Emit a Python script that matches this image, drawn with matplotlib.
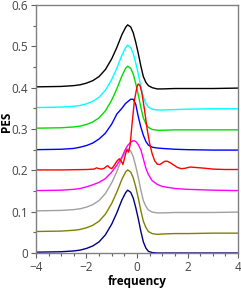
import matplotlib
matplotlib.use("Agg")
import matplotlib.pyplot as plt
from matplotlib.ticker import MultipleLocator

plt.rcParams['font.family'] = ['Open Sans', 'DejaVu Sans']

# shared frequency grid for the smooth spectra
x_smooth = [-4, -3, -2.5, -2.25, -2, -1.75, -1.5, -1.25, -1, -0.8, -0.6, -0.45, -0.37,
            -0.25, -0.15, -0.05, 0.05, 0.15, 0.25, 0.35, 0.45, 0.6, 0.8, 1, 1.5, 2, 3, 4]

pes_navy = [0.002, 0.003, 0.005, 0.007, 0.011, 0.017, 0.027, 0.044, 0.07, 0.097, 0.128, 0.146, 0.152,
            0.147, 0.133, 0.11, 0.083, 0.053, 0.027, 0.012, 0.004, 0.001, 0.0, 0.0, 0.0, 0.0, 0.0, 0.0]
pes_olive = [0.052, 0.053, 0.055, 0.057, 0.061, 0.067, 0.077, 0.094, 0.12, 0.147, 0.178, 0.196, 0.201,
             0.196, 0.182, 0.16, 0.133, 0.103, 0.077, 0.062, 0.052, 0.047, 0.045, 0.046, 0.047, 0.047, 0.048, 0.048]
pes_grey = [0.102, 0.103, 0.105, 0.107, 0.111, 0.117, 0.127, 0.144, 0.17, 0.197, 0.228, 0.246, 0.252,
            0.247, 0.233, 0.21, 0.183, 0.153, 0.127, 0.113, 0.104, 0.099, 0.097, 0.097, 0.098, 0.098, 0.098, 0.099]
pes_magenta = [0.151, 0.152, 0.154, 0.156, 0.16, 0.165, 0.171, 0.18, 0.196, 0.212, 0.232, 0.252, 0.26,
               0.268, 0.272, 0.27, 0.262, 0.25, 0.228, 0.205, 0.19, 0.175, 0.166, 0.161, 0.156, 0.154, 0.152, 0.151]
pes_blue = [0.25, 0.251, 0.253, 0.256, 0.26, 0.266, 0.276, 0.29, 0.312, 0.336, 0.35, 0.362, 0.366,
            0.372, 0.372, 0.36, 0.33, 0.305, 0.285, 0.27, 0.261, 0.256, 0.254, 0.253, 0.251, 0.25, 0.249, 0.249]
pes_green = [0.302, 0.303, 0.305, 0.307, 0.311, 0.317, 0.327, 0.344, 0.37, 0.397, 0.428, 0.447, 0.452,
             0.447, 0.433, 0.41, 0.383, 0.353, 0.327, 0.313, 0.304, 0.299, 0.297, 0.297, 0.298, 0.298, 0.298, 0.298]
pes_cyan = [0.352, 0.353, 0.355, 0.357, 0.361, 0.367, 0.377, 0.394, 0.42, 0.447, 0.478, 0.497, 0.503,
            0.497, 0.483, 0.46, 0.433, 0.403, 0.377, 0.362, 0.353, 0.348, 0.346, 0.346, 0.347, 0.348, 0.349, 0.349]
pes_black = [0.402, 0.403, 0.405, 0.407, 0.411, 0.417, 0.427, 0.444, 0.47, 0.497, 0.528, 0.546, 0.552,
             0.547, 0.533, 0.51, 0.483, 0.453, 0.427, 0.413, 0.405, 0.4, 0.397, 0.397, 0.398, 0.398, 0.398, 0.399]

# the red one is wiggly, own grid
x_red = [-4, -3, -2, -1.7, -1.6, -1.5, -1.4, -1.3, -1.2, -1.15, -1.1, -1.0, -0.9, -0.8, -0.7, -0.62,
         -0.56, -0.5, -0.45, -0.4, -0.33, -0.27, -0.2, -0.1, 0, 0.05, 0.12, 0.2, 0.3, 0.4, 0.5, 0.6,
         0.7, 0.8, 0.9, 1.0, 1.1, 1.2, 1.3, 1.45, 1.6, 1.75, 1.9, 2.1, 2.3, 2.5, 2.7, 3, 3.5, 4]
pes_red = [0.201, 0.201, 0.202, 0.203, 0.206, 0.204, 0.203, 0.205, 0.21, 0.211, 0.207, 0.204, 0.212,
           0.222, 0.228, 0.222, 0.214, 0.228, 0.24, 0.25, 0.244, 0.262, 0.31, 0.37, 0.402, 0.409, 0.405,
           0.385, 0.345, 0.3, 0.265, 0.24, 0.223, 0.215, 0.214, 0.218, 0.222, 0.222, 0.219, 0.213, 0.207,
           0.204, 0.205, 0.208, 0.207, 0.206, 0.205, 0.203, 0.202, 0.202]

fig = plt.figure(figsize=(2.41, 2.89), dpi=100)
ax = fig.add_axes([0.149, 0.1246, 0.839, 0.858])

smooth = [(pes_navy, '#000080'), (pes_olive, '#808000'), (pes_grey, '#a0a0a0'),
          (pes_magenta, '#ff00ff'), (pes_blue, '#0000ff'), (pes_green, '#00dd00'),
          (pes_cyan, '#00ffff'), (pes_black, '#000000')]
for y, c in smooth:
    ax.plot(x_smooth, y, color=c, lw=1.0)
ax.plot(x_red, pes_red, color='#ff0000', lw=1.0)

ax.set_xlim(-4, 4)
ax.set_ylim(0, 0.6)
ax.xaxis.set_minor_locator(MultipleLocator(0.5))
ax.yaxis.set_minor_locator(MultipleLocator(0.05))
ax.set_yticks([0, 0.1, 0.2, 0.3, 0.4, 0.5, 0.6])
ax.set_yticklabels(['0', '0.1', '0.2', '0.3', '0.4', '0.5', '0.6'])
ax.set_xticks([-4, -2, 0, 2, 4])
ax.set_xticklabels(['\u22124', '\u22122', '0', '2', '4'])

for s in ax.spines.values():
    s.set_color('#808080')
    s.set_linewidth(1.0)
ax.tick_params(which='both', direction='out', colors='#606060', labelcolor='#444444', labelsize=8.5, width=0.8)
ax.tick_params(which='major', length=3.5, pad=2)
ax.tick_params(which='minor', length=2)

ax.set_xlabel('frequency', fontsize=8.5, fontweight='bold', labelpad=1)
ax.set_ylabel('PES', fontsize=8.5, fontweight='bold')
ax.yaxis.set_label_coords(-0.112, 0.53)

fig.savefig('out.png', dpi=100)
